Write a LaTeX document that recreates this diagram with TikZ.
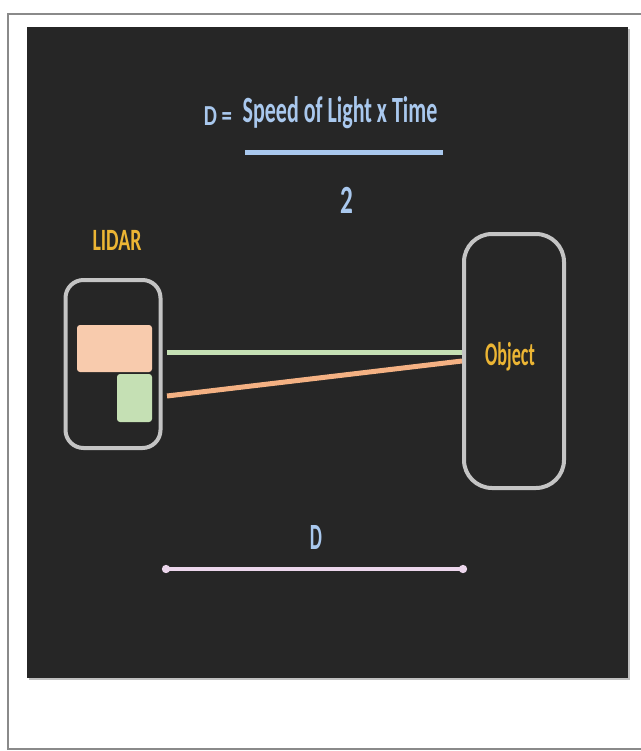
\documentclass[tikz,border=0pt]{standalone}
\usepackage{fontspec}
\setmainfont{Carlito}
\usetikzlibrary{arrows.meta}
\definecolor{bgdark}{HTML}{262626}
\definecolor{framegray}{HTML}{8A8A8A}
\definecolor{txtblue}{HTML}{A9C8EE}
\definecolor{txtgold}{HTML}{ECB534}
\definecolor{boxgray}{HTML}{C4C4C4}
\definecolor{peach}{HTML}{F8CBAD}
\definecolor{lgreen}{HTML}{C5E0B4}
\definecolor{lorange}{HTML}{F4B183}
\definecolor{lpink}{HTML}{ECD6EC}
\newcommand\squeeze[2]{\scalebox{#1}[1]{#2}}
\tikzset{
  label text/.style={inner sep=0pt, anchor=center, font=\bfseries},
  bluetext/.style={label text, text=txtblue},
  goldtext/.style={label text, text=txtgold},
  devicebox/.style={draw=boxgray, line width=4pt, rounded corners=#1, inner sep=0pt},
  chip/.style={fill=#1, draw=none, rounded corners=3pt, inner sep=0pt},
  beam/.style={line width=5pt, draw=#1, line cap=butt},
}
\begin{document}
\begin{tikzpicture}[x=1pt,y=-1pt]
\useasboundingbox (0,0) rectangle (640,751);
\fill[white] (0,0) rectangle (640,751);
\draw[framegray, line width=1.6pt] (8,14) rectangle (648,749);
\fill[black!25] (29,29) rectangle (630,680);
\fill[bgdark] (27,27) rectangle (628,678);

% formula
\node[bluetext] (deq) at (218,116) {\fontsize{29}{34}\selectfont\squeeze{0.72}{D =}};
\node[bluetext] (num) at (340,113) {\fontsize{37}{44}\selectfont\squeeze{0.595}{Speed of Light x Time}};
\coordinate (barl) at (245,153);
\coordinate (barr) at (443,153);
\draw[txtblue, line width=5pt] (barl) -- (barr);
\node[bluetext] (den) at (347,200) {\fontsize{40}{46}\selectfont\squeeze{0.63}{2}};

% LIDAR
\node[goldtext] (lidarlbl) at (117,240) {\fontsize{31}{36}\selectfont\squeeze{0.64}{LIDAR}};
\node[devicebox=18pt, minimum width=95pt, minimum height=168pt] (lidar) at (113,364) {};
\node[chip=peach, minimum width=75pt, minimum height=47pt] (emit) at (114.5,348.5) {};
\node[chip=lgreen, minimum width=35pt, minimum height=48pt] (recv) at (134.5,398) {};

% Object
\node[devicebox=28pt, minimum width=100pt, minimum height=254pt] (object) at (514,361) {};
\node[goldtext] (objlbl) at (510,357) {\fontsize{33}{38}\selectfont\squeeze{0.55}{Object}};

% beams
\coordinate (gstart) at (167,352);
\coordinate (ostart) at (167,396);
\draw[beam=lgreen] (gstart) -- (object.west |- gstart);
\draw[beam=lorange] (ostart) -- (object.west);

% distance
\coordinate (dl) at (162,569);
\coordinate (dr) at (467,569);
\draw[lpink, line width=4pt, {Circle[length=8pt]}-{Circle[length=8pt]}] (dl) -- (dr);
\node[bluetext] (dlbl) at (316,537) {\fontsize{37}{42}\selectfont\squeeze{0.52}{D}};
\end{tikzpicture}
\end{document}
